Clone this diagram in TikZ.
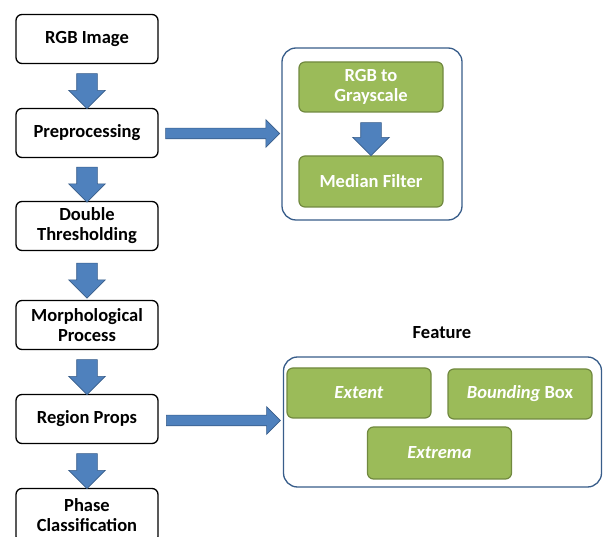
\documentclass[tikz,border=0pt]{standalone}
\usepackage{fontspec}
\setmainfont{Carlito}
\usetikzlibrary{shapes.arrows}

\definecolor{vertfond}{RGB}{155,187,89}
\definecolor{vertbord}{RGB}{113,137,63}
\definecolor{bleufond}{RGB}{79,129,189}
\definecolor{bleubord}{RGB}{56,93,138}

\begin{document}
\begin{tikzpicture}[x=1pt,y=-1pt]
	\tikzstyle{etape}=[rectangle,draw,line width=1.3pt,rounded corners=6pt,fill=white,minimum width=142pt,minimum height=49pt,align=center,font=\bfseries\fontsize{18.5}{20}\selectfont]
	\tikzstyle{vert}=[rectangle,draw=vertbord,line width=1.2pt,rounded corners=6pt,fill=vertfond,text=white,minimum width=144pt,minimum height=50pt,align=center,font=\bfseries\fontsize{18.5}{20}\selectfont]
	\tikzstyle{cadre}=[rectangle,draw=bleubord,line width=1.3pt,rounded corners=14pt,fill=white]
	\tikzstyle{bas}=[single arrow,draw=bleubord,fill=bleufond,line width=0.6pt,rotate=-90,minimum height=35pt,inner xsep=0pt,inner ysep=10pt,single arrow head extend=8pt,single arrow head indent=0pt]
	\tikzstyle{droite}=[single arrow,draw=bleubord,fill=bleufond,line width=0.6pt,minimum height=114pt,inner xsep=0pt,inner ysep=5pt,single arrow head extend=8.5pt,single arrow head indent=0pt]
	\useasboundingbox (0,0) rectangle (603,537);
	\fill[white] (0,0) rectangle (603,537);
	% colonne de gauche
	\node[etape] (rgb) at (87,39){RGB Image};
	\node[etape] (pre) at (87,133){Preprocessing};
	\node[etape] (dbl) at (87,226){Double\\Thresholding};
	\node[etape] (morph) at (87,325){Morphological\\Process};
	\node[etape] (region) at (87,419){Region Props};
	\node[etape,minimum height=54pt] (phase) at (87,515.5){Phase\\Classification};
	\path (rgb.south) -- (pre.north) node[midway,bas]{};
	\path (pre.south) -- (dbl.north) node[midway,bas]{};
	\path (dbl.south) -- (morph.north) node[midway,bas]{};
	\path (morph.south) -- (region.north) node[midway,bas]{};
	\path (region.south) -- (phase.north) node[midway,bas]{};
	% pretraitement
	\node[cadre,minimum width=180pt,minimum height=172pt] (boite1) at (372,134){};
	\node[vert] (gris) at (371,87){RGB to\\Grayscale};
	\node[vert,minimum height=51pt] (median) at (371,181.5){Median Filter};
	\path (gris.south) -- (median.north) node[midway,bas,minimum height=33pt]{};
	\path (pre.east) -- (boite1.west) node[midway,droite]{};
	% caracteristiques
	\node[font=\bfseries\fontsize{18.5}{20}\selectfont] (titre) at (442,333){Feature};
	\node[cadre,minimum width=318pt,minimum height=130pt] (boite2) at (442.5,422){};
	\node[vert] (extent) at (359,393){\textit{Extent}};
	\node[vert] (bbox) at (520,394){\textit{Bounding} Box};
	\node[vert,minimum height=52pt] (extrema) at (439.5,453){\textit{Extrema}};
	\path (region.east) -- (boite2.west) node[midway,droite]{};
\end{tikzpicture}
\end{document}
